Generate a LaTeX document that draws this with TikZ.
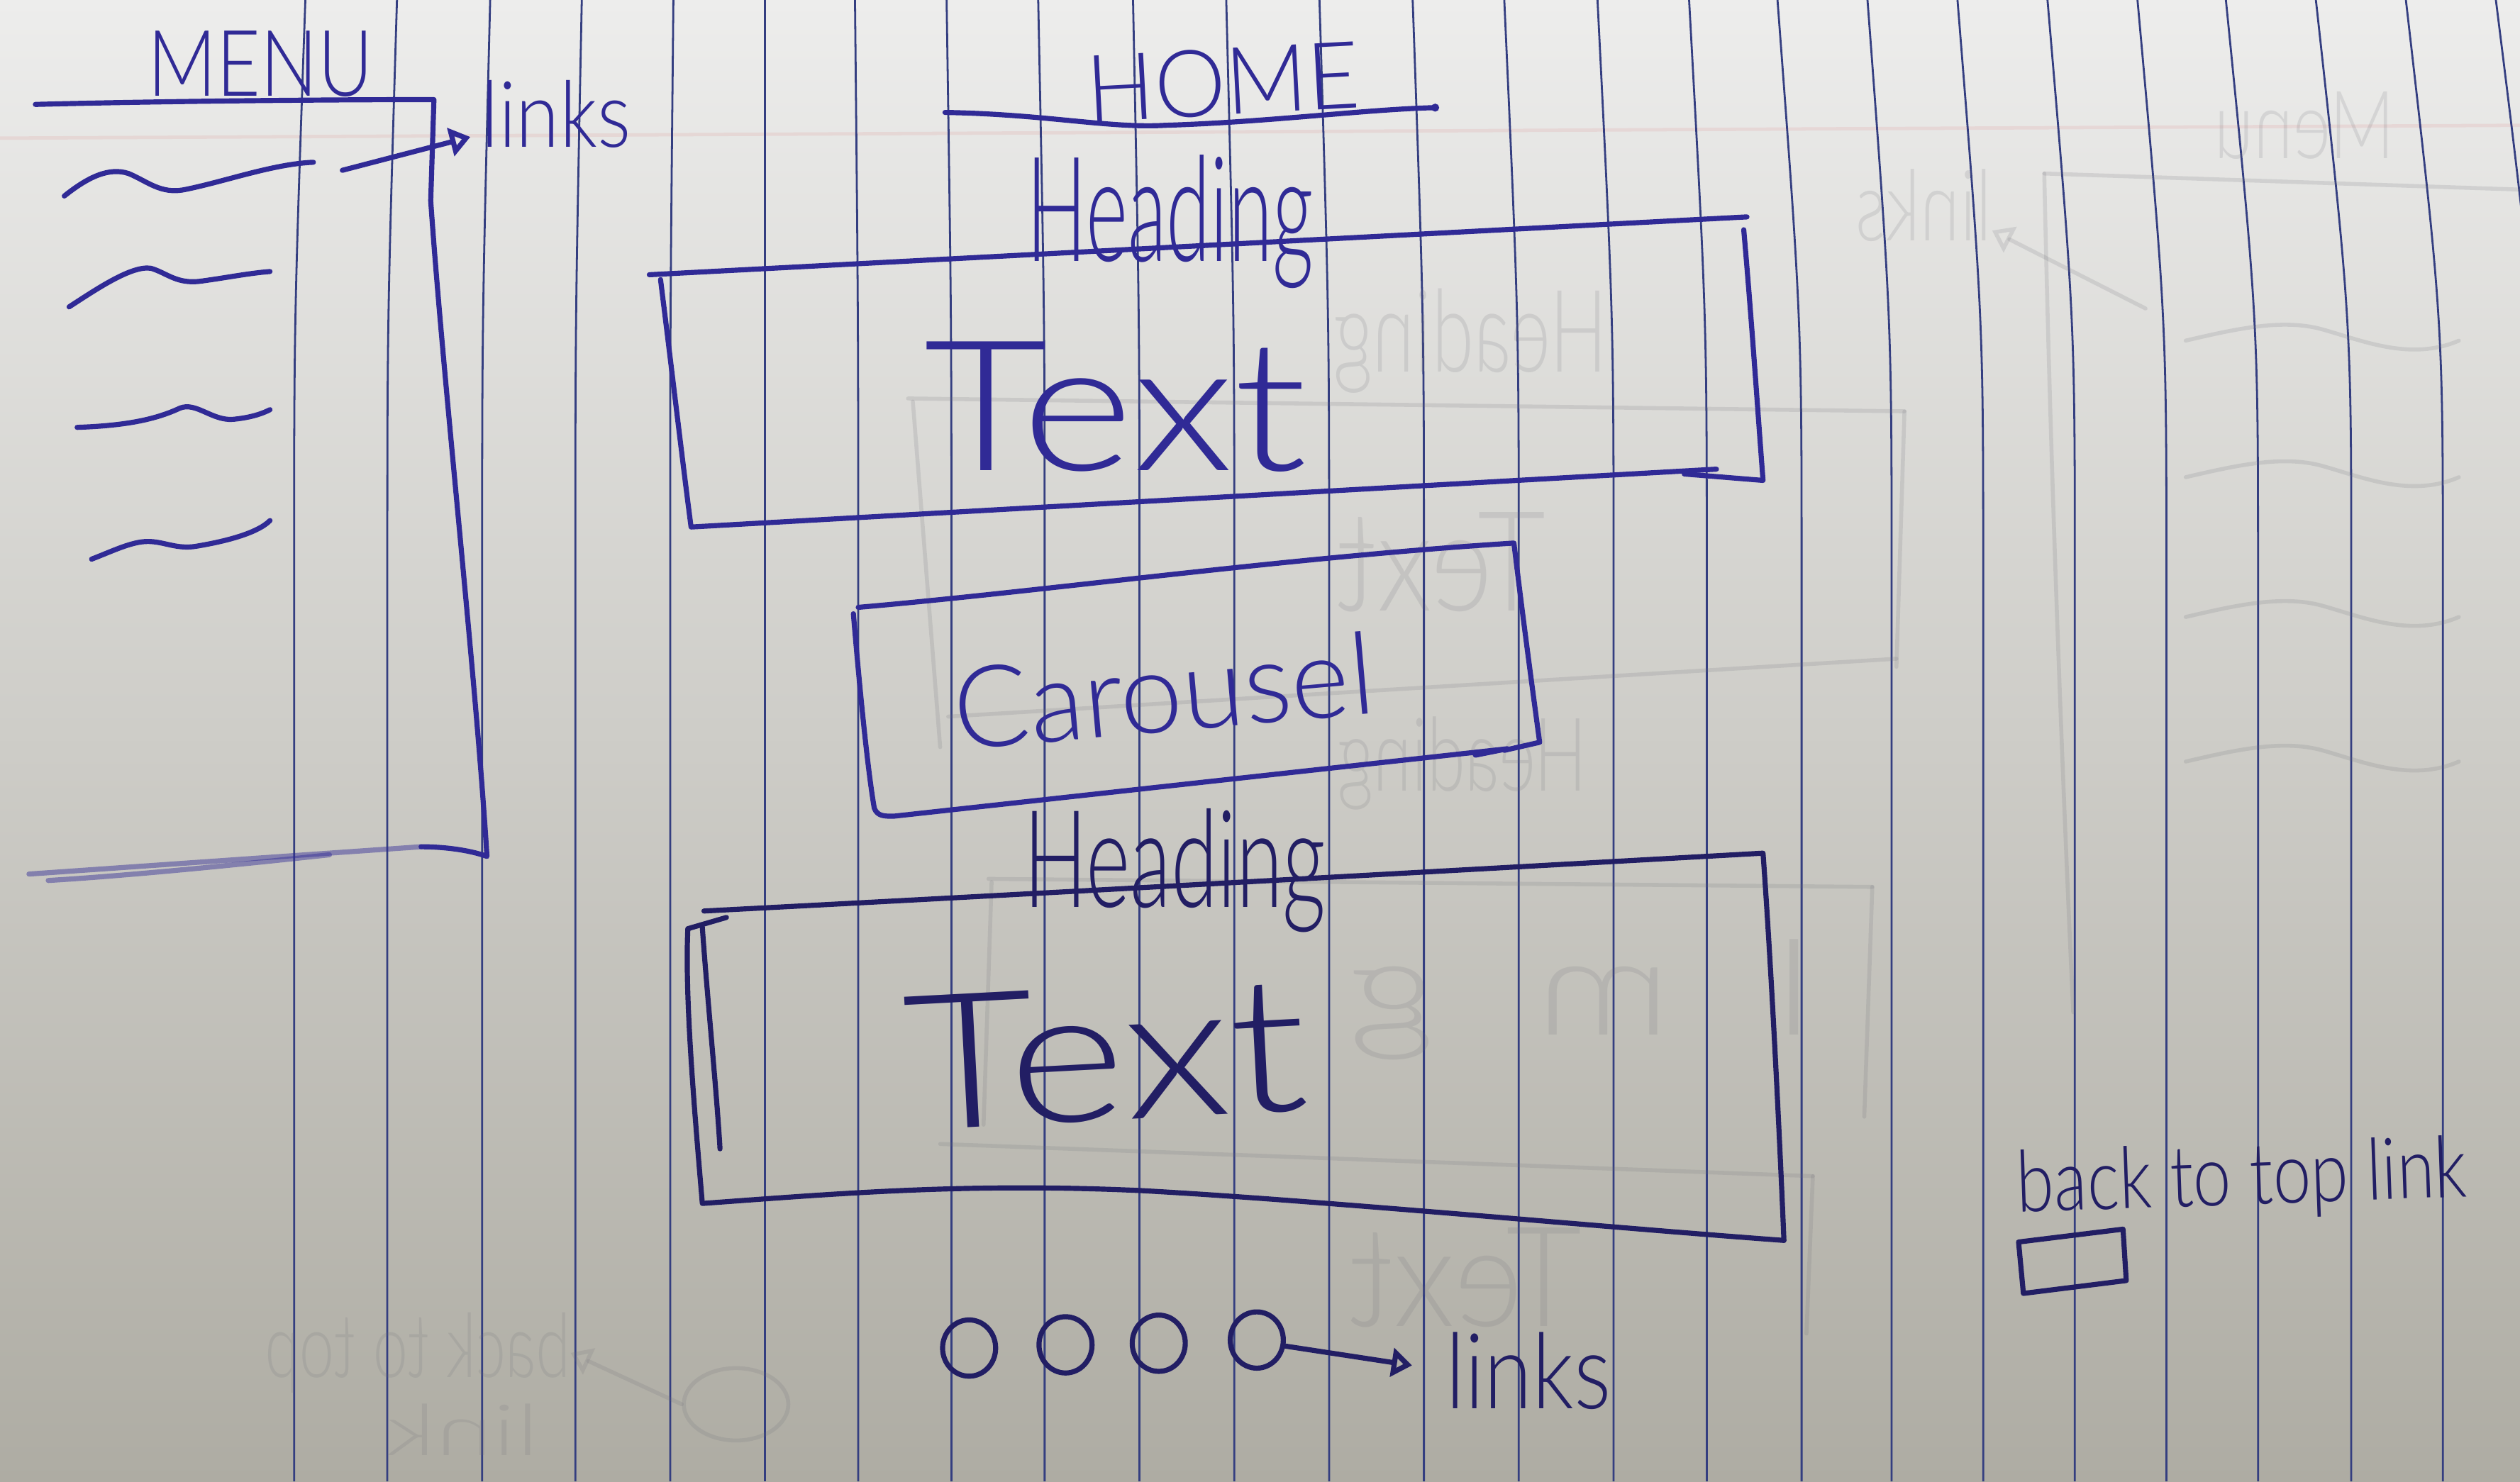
\documentclass[tikz,border=0pt]{standalone}
\usepackage{fontspec}
\usepackage{graphicx}
\newfontfamily\hand{Lato Light}
\usetikzlibrary{arrows.meta,shapes.geometric}

\definecolor{ink}{RGB}{48,42,150}
\definecolor{inkdark}{RGB}{34,30,100}
\definecolor{rulecol}{RGB}{52,62,128}
\definecolor{ghostc}{RGB}{110,110,120}
\definecolor{papertop}{RGB}{237,237,236}
\definecolor{papermid}{RGB}{216,215,210}
\definecolor{paperbot}{RGB}{174,172,163}
\definecolor{marginred}{RGB}{228,186,186}

% handwritten word fitted into a box of given width and total height (cm)
\newcommand\hw[3]{\resizebox*{#1cm}{#2cm}{\hand #3}}

\tikzset{
  inkpen/.style={draw=ink, line width=0.9pt, line cap=round, line join=round},
  darkpen/.style={draw=inkdark, line width=0.9pt, line cap=round, line join=round},
  fadedpen/.style={inkpen, draw opacity=0.45},
  ruling/.style={draw=rulecol, line width=0.35pt},
  handtxt/.style={inner sep=0pt, outer sep=0pt, text=ink},
  darktxt/.style={inner sep=0pt, outer sep=0pt, text=inkdark},
  ring/.style={ellipse, draw=inkdark, line width=0.9pt, minimum width=0.33cm, minimum height=0.35cm, inner sep=0pt},
  openhead/.style={-{Triangle[open, length=3.6pt, width=5pt]}},
  ghostline/.style={draw=ghostc, line width=0.7pt, draw opacity=0.17, line cap=round, line join=round},
  ghosttxt/.style={inner sep=0pt, outer sep=0pt, text=ghostc, text opacity=0.16},
}

\begin{document}
\begin{tikzpicture}[x=0.01cm, y=-0.01cm]
\useasboundingbox (0,0) rectangle (1568,922);

% ---- the sheet of ruled paper ----
\shade[top color=papertop, middle color=papermid, bottom color=paperbot] (0,0) rectangle (1568,922);
\draw[marginred, line width=0.6pt, opacity=0.35] (0,86) -- (1568,78);
\foreach \t/\b in {190/183, 247/241, 305/300, 362/358, 419/417, 476/476, 532/534,
                   589/592, 646/650, 705/709, 763/768, 821/827, 879/886, 936/945,
                   994/1004, 1051/1062, 1106/1121, 1162/1177, 1218/1234, 1274/1291,
                   1330/1348, 1385/1405, 1441/1463, 1497/1520, 1553/1578}
  \draw[ruling] (\t,0) .. controls (\b,200) .. (\b,360) -- (\b,922);

% ---- show-through from the back of the sheet ----
\node[ghosttxt] (gMenu)  at (1434,78)  {\reflectbox{\hw{1.12}{0.42}{Menu}}};
\node[ghosttxt] (gLinks) at (1197,128) {\reflectbox{\hw{0.85}{0.45}{links}}};
\coordinate (gArrowStart) at (1335,192);
\draw[ghostline, -{Triangle[open, length=3.6pt, width=5pt]}] (gArrowStart) -- (gLinks.-20);
\draw[ghostline] (1272,108) -- (1568,118);
\draw[ghostline] (1272,108) .. controls (1276,300) and (1284,500) .. (1290,630);
\foreach \dy in {0,85,172,262}
  \draw[ghostline] (1360,{212+\dy}) .. controls (1390,{205+\dy}) and (1420,{198+\dy}) .. (1445,{205+\dy})
                   .. controls (1470,{212+\dy}) and (1500,{225+\dy}) .. (1530,{212+\dy});
\draw[ghostline] (565,248) -- (1185,256);
\draw[ghostline] (568,250) -- (585,465);
\draw[ghostline] (1185,256) -- (1180,415);
\draw[ghostline] (590,446) -- (1180,410);
\node[ghosttxt] (gHead1) at (915,212) {\reflectbox{\hw{1.70}{0.65}{Heading}}};
\node[ghosttxt] (gText1) at (897,350) {\reflectbox{\hw{1.30}{0.62}{Text}}};
\node[ghosttxt] (gHead2) at (910,475) {\reflectbox{\hw{1.55}{0.58}{Heading}}};
\draw[ghostline] (615,547) -- (1165,552);
\draw[ghostline] (617,549) -- (612,700);
\draw[ghostline] (1165,552) -- (1160,695);
\node[ghosttxt] (gImg) at (985,622) {\reflectbox{\hw{2.90}{0.75}{I\hspace{0.6em}m\hspace{0.6em}g}}};
\draw[ghostline] (585,712) -- (1128,732);
\draw[ghostline] (1128,732) -- (1124,830);
\node[ghosttxt] (gText2) at (912,795) {\reflectbox{\hw{1.45}{0.62}{Text}}};
\node[ghosttxt] (gBack) at (260,842) {\reflectbox{\hw{1.90}{0.50}{back to top}}};
\node[ghosttxt] (gLink) at (288,890) {\reflectbox{\hw{0.95}{0.32}{link}}};
\node[ellipse, draw=ghostc, draw opacity=0.17, line width=0.7pt, minimum width=0.65cm, minimum height=0.45cm] (gCirc) at (458,874) {};
\draw[ghostline, -{Triangle[open, length=3.6pt, width=5pt]}] (gCirc.west) -- (gBack.east);

% ---- MENU panel ----
\node[handtxt] (menuT) at (162,40) {\hw{1.40}{0.41}{MENU}};
\draw[inkpen] (22,65) .. controls (100,63) and (200,62) .. (270,62)
  -- (268,125) .. controls (276,240) and (296,420) .. (303,533)
  .. controls (292,529) and (276,527) .. (262,527);
\draw[fadedpen] (262,527) -- (18,544);
\draw[fadedpen] (30,548) .. controls (80,545) and (150,538) .. (205,532);

\draw[inkpen] (40,122) .. controls (55,110) and (68,104) .. (80,108)
  .. controls (92,113) and (100,121) .. (115,118) .. controls (140,113) and (170,102) .. (195,101);
\draw[inkpen] (43,191) .. controls (60,180) and (82,165) .. (94,167)
  .. controls (104,170) and (110,177) .. (125,175) .. controls (140,173) and (155,170) .. (168,169);
\draw[inkpen] (48,266) .. controls (75,265) and (95,262) .. (112,254)
  .. controls (122,250) and (132,262) .. (145,261) .. controls (155,260) and (162,258) .. (168,255);
\draw[inkpen] (57,348) .. controls (70,343) and (82,337) .. (92,337)
  .. controls (102,337) and (110,342) .. (122,340) .. controls (140,337) and (160,332) .. (168,324);

\node[handtxt] (linksA) at (346,71) {\hw{0.93}{0.42}{links}};
\coordinate (itemOne) at (213,106);
\draw[inkpen, openhead, shorten >=2pt] (itemOne) -- (linksA.195);

% ---- HOME page ----
\node[handtxt, rotate=3] (homeT) at (761,51) {\hw{1.70}{0.42}{HOME}};
\draw[inkpen] (588,70) .. controls (650,71) and (690,80) .. (725,78)
  .. controls (790,76) and (850,68) .. (893,67);
\fill[ink] (893,67) circle (2.5);

\node[handtxt] (head1) at (728,138) {\hw{1.78}{0.83}{Heading}};
\draw[inkpen] (404,171) -- (1087,135);
\draw[inkpen] (411,174) .. controls (418,230) and (425,290) .. (430,328) -- (1068,292);
\draw[inkpen] (1085,143) .. controls (1090,200) and (1094,260) .. (1097,299) -- (1048,295);
\node[handtxt] (text1) at (694,253) {\hw{2.38}{0.81}{Text}};

\draw[inkpen] (534,378) .. controls (650,368) and (800,347) .. (942,338)
  .. controls (947,380) and (953,425) .. (958,462) -- (936,467);
\draw[inkpen] (531,382) .. controls (535,430) and (540,480) .. (544,503)
  .. controls (546,508) and (550,508) .. (556,508) -- (938,466) -- (918,470);
\node[handtxt, rotate=5] (carT) at (724,430) {\hw{2.62}{0.52}{Carousel}};

\node[darktxt] (head2) at (731,542) {\hw{1.88}{0.77}{Heading}};
\draw[darkpen] (438,567) .. controls (650,556) and (900,542) .. (1097,531)
  .. controls (1102,600) and (1107,700) .. (1110,772);
\draw[darkpen] (452,571) -- (428,578) .. controls (426,620) and (432,690) .. (437,749)
  .. controls (520,743) and (600,736) .. (710,741)
  .. controls (820,747) and (1000,764) .. (1110,772);
\draw[darkpen] (437,577) .. controls (440,620) and (446,680) .. (448,715);
\node[darktxt, rotate=3] (text2) at (688,656) {\hw{2.50}{0.84}{Text}};

% ---- footer links ----
\node[ring] (c1) at (603,839) {};
\node[ring] (c2) at (663,837) {};
\node[ring] (c3) at (721,836) {};
\node[ring] (c4) at (782,834) {};
\node[darktxt] (links2) at (951,853) {\hw{1.03}{0.48}{links}};
\draw[darkpen, openhead, shorten >=6pt] (c4.-12) -- (links2.west);

% ---- back to top ----
\node[darktxt, rotate=2] (backT) at (1395,735) {\hw{2.80}{0.48}{back to top link}};
\draw[darkpen] (1256,773) -- (1321,765) -- (1323,797) -- (1259,805) -- cycle;

\end{tikzpicture}
\end{document}
